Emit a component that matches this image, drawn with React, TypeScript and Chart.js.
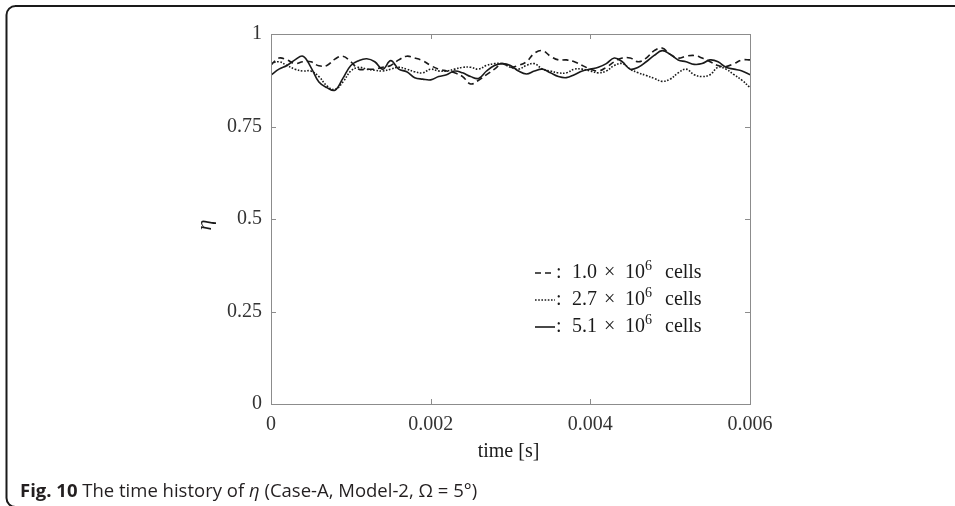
import React, { useEffect, useRef } from "react";
import { Chart, registerables } from "chart.js";

Chart.register(...registerables);

// time [s]
const timeS = [
  0, 0.0001, 0.0002, 0.0003, 0.0004, 0.0005, 0.0006, 0.0007, 0.0008, 0.0009,
  0.001, 0.0011, 0.0012, 0.0013, 0.0014, 0.0015, 0.0016, 0.0017, 0.0018, 0.0019,
  0.002, 0.0021, 0.0022, 0.0023, 0.0024, 0.0025, 0.0026, 0.0027, 0.0028, 0.0029,
  0.003, 0.0031, 0.0032, 0.0033, 0.0034, 0.0035, 0.0036, 0.0037, 0.0038, 0.0039,
  0.004, 0.0041, 0.0042, 0.0043, 0.0044, 0.0045, 0.0046, 0.0047, 0.0048, 0.0049,
  0.005, 0.0051, 0.0052, 0.0053, 0.0054, 0.0055, 0.0056, 0.0057, 0.0058, 0.0059,
  0.006,
];

// 1.0 x 10^6 cells (dashed)
const eta10 = [
  0.916, 0.935, 0.93, 0.92, 0.925, 0.925, 0.914, 0.915, 0.932, 0.94,
  0.925, 0.905, 0.905, 0.905, 0.91, 0.915, 0.93, 0.94, 0.935, 0.928,
  0.915, 0.905, 0.9, 0.895, 0.885, 0.865, 0.875, 0.89, 0.905, 0.92,
  0.91, 0.915, 0.925, 0.948, 0.955, 0.94, 0.93, 0.93, 0.925, 0.915,
  0.905, 0.9, 0.91, 0.925, 0.935, 0.935, 0.925, 0.935, 0.955, 0.962,
  0.945, 0.935, 0.94, 0.942, 0.935, 0.925, 0.915, 0.912, 0.92, 0.93,
  0.93,
];

// 2.7 x 10^6 cells (dotted)
const eta27 = [
  0.92, 0.925, 0.915, 0.905, 0.9, 0.9, 0.885, 0.86, 0.85, 0.87,
  0.9, 0.91, 0.905, 0.902, 0.9, 0.905, 0.91, 0.905, 0.898, 0.895,
  0.905, 0.9, 0.9, 0.905, 0.91, 0.91, 0.905, 0.915, 0.92, 0.92,
  0.91, 0.905, 0.915, 0.92, 0.905, 0.9, 0.895, 0.895, 0.905, 0.905,
  0.9, 0.895, 0.9, 0.915, 0.92, 0.905, 0.895, 0.888, 0.88, 0.872,
  0.878, 0.895, 0.905, 0.89, 0.885, 0.89, 0.91, 0.905, 0.89, 0.875,
  0.855,
];

// 5.1 x 10^6 cells (solid)
const eta51 = [
  0.889, 0.905, 0.915, 0.93, 0.94, 0.91, 0.87, 0.855, 0.848, 0.88,
  0.915, 0.928, 0.933, 0.925, 0.905, 0.928, 0.905, 0.898, 0.882, 0.878,
  0.876, 0.885, 0.89, 0.9, 0.895, 0.885, 0.88, 0.9, 0.915, 0.92,
  0.915, 0.9, 0.892, 0.9, 0.905, 0.895, 0.885, 0.882, 0.89, 0.9,
  0.905, 0.91, 0.92, 0.935, 0.925, 0.905, 0.91, 0.925, 0.942, 0.955,
  0.945, 0.93, 0.925, 0.918, 0.92, 0.93, 0.925, 0.91, 0.905, 0.9,
  0.89,
];

const xTicks = [0, 0.002, 0.004, 0.006];
const xTickLabels = ["0", "0.002", "0.004", "0.006"];
const yTicks = [0, 0.25, 0.5, 0.75, 1];
const yTickLabels = ["0", "0.25", "0.5", "0.75", "1"];
const legendMantissa = ["1.0", "2.7", "5.1"];
const legendExponent = "6";
const legendUnit = "cells";
const xTitle = "time [s]";
const yTitle = "η";
const captionBold = "Fig. 10";
const captionText1 = " The time history of ";
const captionItalic = "η";
const captionText2 = " (Case-A, Model-2, Ω = 5°)";

const SERIF = "'Liberation Serif', 'DejaVu Serif', serif";
const SANS = "'Open Sans', 'Noto Sans', sans-serif";
const INK = "#1a1a1a";

const dashStyles: number[][] = [[6, 4], [1.6, 1.6], []];

const decorPlugin = {
  id: "decor",
  beforeDraw(chart: any) {
    const ctx = chart.ctx;
    ctx.save();
    ctx.fillStyle = "#ffffff";
    ctx.fillRect(0, 0, chart.width, chart.height);
    // outer rounded frame
    ctx.strokeStyle = INK;
    ctx.lineWidth = 2;
    ctx.beginPath();
    ctx.moveTo(chart.width + 10, 6);
    ctx.lineTo(15, 6);
    ctx.arcTo(6.5, 6, 6.5, 15, 9);
    ctx.lineTo(6.5, 498);
    ctx.arcTo(6.5, 507, 15, 507, 9);
    ctx.lineTo(chart.width + 10, 507);
    ctx.stroke();
    ctx.restore();
  },
  afterDatasetsDraw(chart: any) {
    const ctx = chart.ctx;
    const a = chart.chartArea;
    const xs = chart.scales.x;
    const ys = chart.scales.y;
    ctx.save();
    // plot box
    ctx.strokeStyle = "#8c8c8c";
    ctx.lineWidth = 1;
    ctx.strokeRect(a.left + 0.5, a.top + 0.5, a.right - a.left, a.bottom - a.top);
    const tl = 5;
    ctx.beginPath();
    xTicks.forEach((v) => {
      const px = Math.round(xs.getPixelForValue(v)) + 0.5;
      ctx.moveTo(px, a.bottom);
      ctx.lineTo(px, a.bottom - tl);
      ctx.moveTo(px, a.top);
      ctx.lineTo(px, a.top + tl);
    });
    yTicks.forEach((v) => {
      const py = Math.round(ys.getPixelForValue(v)) + 0.5;
      ctx.moveTo(a.left, py);
      ctx.lineTo(a.left + tl, py);
      ctx.moveTo(a.right, py);
      ctx.lineTo(a.right - tl, py);
    });
    ctx.stroke();

    // axis titles
    ctx.fillStyle = INK;
    ctx.font = `20px ${SERIF}`;
    ctx.textAlign = "center";
    ctx.textBaseline = "alphabetic";
    ctx.fillText(xTitle, (a.left + a.right) / 2 - 2, 457);
    ctx.save();
    ctx.translate(211, (a.top + a.bottom) / 2 + 6);
    ctx.rotate(-Math.PI / 2);
    ctx.font = `italic 22px ${SERIF}`;
    ctx.fillText(yTitle, 0, 0);
    ctx.restore();

    // legend
    const baseY = 278;
    const gap = 27;
    legendMantissa.forEach((m, i) => {
      const y = baseY + i * gap;
      ctx.save();
      ctx.strokeStyle = INK;
      ctx.lineWidth = 1.6;
      ctx.setLineDash(dashStyles[i]);
      ctx.beginPath();
      const ly = y - 5;
      ctx.moveTo(535, ly);
      ctx.lineTo(555, ly);
      ctx.stroke();
      ctx.restore();
      ctx.fillStyle = INK;
      ctx.textAlign = "left";
      ctx.font = `20px ${SERIF}`;
      ctx.fillText(":", 556, y);
      ctx.fillText(m, 572, y);
      ctx.fillText("×", 604, y);
      ctx.fillText("10", 625, y);
      ctx.font = `14px ${SERIF}`;
      ctx.fillText(legendExponent, 645, y - 8);
      ctx.font = `20px ${SERIF}`;
      ctx.fillText(legendUnit, 665, y);
    });

    // caption
    let cx = 20;
    const cy = 497;
    ctx.textAlign = "left";
    ctx.fillStyle = "#231f20";
    ctx.font = `bold 18.5px ${SANS}`;
    ctx.fillText(captionBold, cx, cy);
    cx += ctx.measureText(captionBold).width;
    ctx.font = `18.5px ${SANS}`;
    ctx.fillText(captionText1, cx, cy);
    cx += ctx.measureText(captionText1).width;
    ctx.font = `italic 18.5px ${SANS}`;
    ctx.fillText(captionItalic, cx, cy);
    cx += ctx.measureText(captionItalic).width;
    ctx.font = `18.5px ${SANS}`;
    ctx.fillText(captionText2, cx, cy);
    ctx.restore();
  },
};

export default function App() {
  const ref = useRef<HTMLCanvasElement>(null);
  useEffect(() => {
    if (!ref.current) return;
    const mk = (vals: number[]) => timeS.map((t, i) => ({ x: t, y: vals[i] }));
    const chart = new Chart(ref.current, {
      type: "line",
      data: {
        datasets: [
          { label: "1.0", data: mk(eta10), borderDash: dashStyles[0] },
          { label: "2.7", data: mk(eta27), borderDash: dashStyles[1] },
          { label: "5.1", data: mk(eta51), borderDash: dashStyles[2] },
        ].map((d) => ({
          ...d,
          borderColor: INK,
          borderWidth: 1.6,
          pointRadius: 0,
          fill: false,
          tension: 0.4,
        })) as any,
      },
      options: {
        responsive: false,
        devicePixelRatio: 1,
        animation: false,
        layout: { padding: { left: 0, right: 205, top: 34, bottom: 0 } },
        plugins: { legend: { display: false }, tooltip: { enabled: false } },
        scales: {
          x: {
            type: "linear",
            min: 0,
            max: 0.006,
            grid: { display: false, drawTicks: false },
            border: { display: false },
            afterBuildTicks: (s: any) => {
              s.ticks = xTicks.map((v) => ({ value: v }));
            },
            afterFit: (s: any) => {
              s.height = 102;
            },
            ticks: {
              autoSkip: false,
              maxRotation: 0,
              padding: 9,
              color: "#333333",
              font: { family: SERIF, size: 20 },
              callback: (_v: any, i: number) => xTickLabels[i],
            },
          },
          y: {
            type: "linear",
            min: 0,
            max: 1,
            grid: { display: false, drawTicks: false },
            border: { display: false },
            afterBuildTicks: (s: any) => {
              s.ticks = yTicks.map((v) => ({ value: v }));
            },
            afterFit: (s: any) => {
              s.width = 271;
            },
            ticks: {
              autoSkip: false,
              padding: 9,
              color: "#333333",
              font: { family: SERIF, size: 20 },
              callback: (_v: any, i: number) => yTickLabels[i],
            },
          },
        },
      },
      plugins: [decorPlugin],
    });
    return () => chart.destroy();
  }, []);
  return (
    <div style={{ position: "fixed", left: 0, top: 0, width: 955, height: 506, background: "#fff" }}>
      <canvas ref={ref} width={955} height={506} style={{ display: "block", width: 955, height: 506 }} />
    </div>
  );
}
